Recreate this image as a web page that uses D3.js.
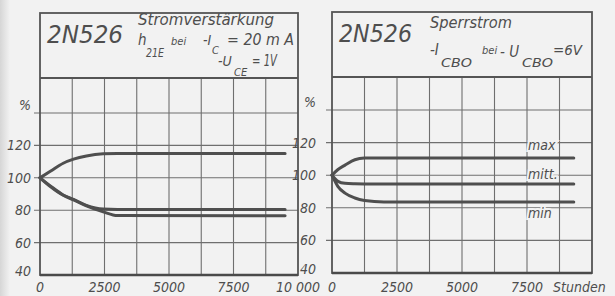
<!DOCTYPE html>
<html>
<head>
<meta charset="utf-8">
<script src="https://cdn.jsdelivr.net/npm/d3@7"></script>
<style>
  html, body { margin: 0; padding: 0; background: #f2f2f2; }
  svg { display: block; }
  text { font-family: "Liberation Sans Narrow", "DejaVu Sans Condensed", "Liberation Sans", sans-serif; font-style: italic; fill: #4e4e4e; }
</style>
</head>
<body>
<div id="chart"></div>
<script>
// ---- data (hours vs. percent of initial value) ----
const xTicks = [0, 2500, 5000, 7500, 10000];
const xTickLabels = ["0", "2500", "5000", "7500", "10 000"];
const xTickLabelsRight = ["0", "2500", "5000", "7500", "Stunden"];
const yTicks = [40, 60, 80, 100, 120, 140];
const yTickLabels = ["40", "60", "80", "100", "120", "%"];

const leftHours = [0, 400, 900, 1300, 1800, 2450, 3000, 9500];
const hfeMax = [100, 104, 109, 111.5, 113.5, 114.8, 115, 115];
const hfeMid = [100, 95, 89.4, 86.7, 83, 80.7, 80.5, 80.5];
const hfeMin = [100, 94.6, 89.2, 86.4, 82.7, 79, 76.7, 76.5];

const rightHours = [0, 230, 500, 880, 1250, 2000, 9300];
const icboMax = [100, 103.5, 106.2, 109.5, 110.5, 110.6, 110.6];
const icboMid = [100, 96.2, 95, 94.7, 94.6, 94.6, 94.6];
const icboMin = [100, 93, 89, 86, 84.5, 83.6, 83.6];

const svg = d3.select("#chart").append("svg")
  .attr("width", 615)
  .attr("height", 296);

// scanned page shade at left edge
const grad = svg.append("defs").append("linearGradient").attr("id", "shade");
grad.append("stop").attr("offset", "0%").attr("stop-color", "#d6d6d6");
grad.append("stop").attr("offset", "100%").attr("stop-color", "#f2f2f2");
svg.append("rect").attr("x", 0).attr("y", 0).attr("width", 10).attr("height", 296).attr("fill", "url(#shade)");

function renderPanel(p) {
  const g = svg.append("g");
  const x = d3.scaleLinear().domain([0, 10000]).range([p.left, p.right]);
  const y = d3.scaleLinear().domain([40, 140]).range([p.bottom, p.y140]);

  // vertical grid
  g.selectAll(".vgrid")
    .data(d3.range(1250, 10000, 1250))
    .enter().append("line")
    .attr("x1", d => x(d)).attr("x2", d => x(d))
    .attr("y1", p.top).attr("y2", p.bottom)
    .attr("stroke", "#6f6f6f").attr("stroke-width", 1.1);

  // horizontal grid with tick stubs
  g.selectAll(".hgrid")
    .data(yTicks.slice(1))
    .enter().append("line")
    .attr("x1", p.left - 6).attr("x2", p.right)
    .attr("y1", d => y(d)).attr("y2", d => y(d))
    .attr("stroke", "#6f6f6f").attr("stroke-width", 1.1);

  // frame + title box
  g.append("rect")
    .attr("x", p.left).attr("y", p.boxTop)
    .attr("width", p.right - p.left).attr("height", p.bottom - p.boxTop)
    .attr("fill", "none").attr("stroke", "#555").attr("stroke-width", 1.8);
  g.append("line")
    .attr("x1", p.left).attr("x2", p.right)
    .attr("y1", p.top).attr("y2", p.top)
    .attr("stroke", "#555").attr("stroke-width", 1.8);
  g.append("line")
    .attr("x1", p.left).attr("x2", p.right)
    .attr("y1", p.bottom).attr("y2", p.bottom)
    .attr("stroke", "#4a4a4a").attr("stroke-width", 2.6);

  // y labels
  g.selectAll(".ylab")
    .data(yTicks)
    .enter().append("text")
    .attr("x", p.left - p.labelGap)
    .attr("y", d => y(d) + (d === 140 ? -3 : d === 40 ? 1 : 5))
    .attr("text-anchor", "end")
    .attr("font-size", 14)
    .text((d, i) => yTickLabels[i]);

  // x labels
  g.selectAll(".xlab")
    .data(xTicks)
    .enter().append("text")
    .attr("x", (d, i) => p.xLabels[i] === "Stunden" ? x(7500) + 26 : x(d))
    .attr("y", 292)
    .attr("text-anchor", (d, i) => p.xLabels[i] === "Stunden" ? "start" : "middle")
    .attr("font-size", 14)
    .text((d, i) => p.xLabels[i]);

  // curves
  const line = d3.line()
    .x(d => x(d[0]))
    .y(d => y(d[1]))
    .curve(d3.curveMonotoneX);
  p.series.forEach(s => {
    g.append("path")
      .datum(p.hours.map((h, i) => [h, s[i]]))
      .attr("fill", "none")
      .attr("stroke", "#4f4f4f")
      .attr("stroke-width", 3)
      .attr("stroke-linecap", "round")
      .attr("d", line);
  });
  return { g, x, y };
}

const left = renderPanel({
  left: 40, right: 298, boxTop: 13, top: 78, bottom: 275, y140: 113,
  labelGap: 9, xLabels: xTickLabels,
  hours: leftHours, series: [hfeMax, hfeMid, hfeMin]
});

const right = renderPanel({
  left: 332, right: 592, boxTop: 12, top: 77, bottom: 273, y140: 110,
  labelGap: 16, xLabels: xTickLabelsRight,
  hours: rightHours, series: [icboMax, icboMid, icboMin]
});

// curve labels (halo hides grid lines behind them)
const tags = [["max", 142 + 8], ["mitt.", 174 + 5], ["min", 213 + 5]];
right.g.selectAll(".tag")
  .data(tags)
  .enter().append("text")
  .attr("x", 528)
  .attr("y", d => d[1])
  .attr("font-size", 14)
  .attr("stroke", "#f2f2f2").attr("stroke-width", 4)
  .attr("paint-order", "stroke")
  .text(d => d[0]);

// ---- titles ----
function title(g, items) {
  items.forEach(t => {
    const el = g.append("text")
      .attr("x", t.x).attr("y", t.y)
      .attr("font-size", t.size)
      .text(t.s);
    if (t.w) el.attr("textLength", t.w).attr("lengthAdjust", "spacingAndGlyphs");
  });
}

title(left.g, [
  { s: "2N526", x: 47, y: 43, size: 24, w: 76 },
  { s: "Stromverstärkung", x: 138, y: 25, size: 15, w: 136 },
  { s: "h", x: 138, y: 45, size: 15 },
  { s: "21E", x: 146, y: 57, size: 13, w: 18 },
  { s: "bei", x: 171, y: 45, size: 11 },
  { s: "-I", x: 203, y: 45, size: 14 },
  { s: "C", x: 212, y: 54, size: 11 },
  { s: "= 20 m A", x: 227, y: 45, size: 15, w: 67 },
  { s: "-U", x: 218, y: 66, size: 14 },
  { s: "CE", x: 234, y: 76, size: 11 },
  { s: "= 1V", x: 252, y: 66, size: 15, w: 25 }
]);

title(right.g, [
  { s: "2N526", x: 339, y: 42, size: 24, w: 73 },
  { s: "Sperrstrom", x: 430, y: 28, size: 15, w: 82 },
  { s: "-I", x: 430, y: 55, size: 15 },
  { s: "CBO", x: 441, y: 67, size: 13, w: 31 },
  { s: "bei", x: 482, y: 54, size: 11 },
  { s: "- U", x: 500, y: 57, size: 15 },
  { s: "CBO", x: 522, y: 67, size: 13, w: 31 },
  { s: "=6V", x: 553, y: 55, size: 14, w: 29 }
]);
</script>
</body>
</html>
